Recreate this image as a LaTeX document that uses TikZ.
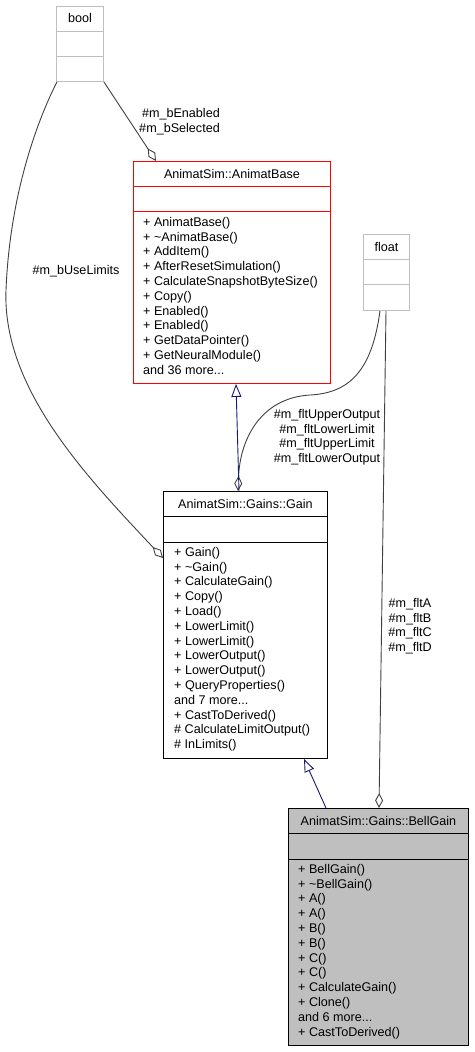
\documentclass[tikz,border=0pt]{standalone}
\usepackage{fontspec}
\setmainfont{Liberation Sans}
\usepackage{tikz}
\usetikzlibrary{calc,arrows.meta}
\definecolor{edgegray}{RGB}{64,64,64}
\definecolor{boxgray}{RGB}{191,191,191}
\definecolor{navyline}{RGB}{25,25,112}

\begin{document}
\begin{tikzpicture}[x=1pt,y=1pt,yscale=-1,xscale=1,
  classbox/.style={draw,rectangle,inner sep=0pt,anchor=north west,line width=0.9pt},
  title/.style={inner sep=0pt,anchor=base,font=\fontsize{12.6}{14.8}\selectfont},
  members/.style={inner sep=0pt,anchor=north west,align=left,font=\fontsize{12.6}{14.8}\selectfont},
  edgelabel/.style={inner sep=0pt,font=\fontsize{12.6}{14.8}\selectfont},
  aggr/.style={draw=edgegray,line width=0.9pt,-{Diamond[open,length=15pt,width=8pt]}},
  inherit/.style={draw=navyline,line width=0.9pt,-{Triangle[open,length=13pt,width=10pt]}}]
\useasboundingbox (0,0) rectangle (474,1052);

%Shape: Rectangle [bool]
\node[classbox,draw=boxgray,minimum width=47,minimum height=75] (bool) at (56,6) {};
\draw[boxgray,line width=0.9pt] ($(bool.north west)+(0,25)$) -- ($(bool.north east)+(0,25)$);
\draw[boxgray,line width=0.9pt] ($(bool.north west)+(0,50)$) -- ($(bool.north east)+(0,50)$);
%Shape: Rectangle [AnimatBase]
\node[classbox,draw=red,minimum width=197,minimum height=222] (animatbase) at (133,161) {};
\draw[red,line width=0.9pt] ($(animatbase.north west)+(0,25)$) -- ($(animatbase.north east)+(0,25)$);
\draw[red,line width=0.9pt] ($(animatbase.north west)+(0,50)$) -- ($(animatbase.north east)+(0,50)$);
%Shape: Rectangle [float]
\node[classbox,draw=boxgray,minimum width=46,minimum height=76] (float) at (363,234) {};
\draw[boxgray,line width=0.9pt] ($(float.north west)+(0,25)$) -- ($(float.north east)+(0,25)$);
\draw[boxgray,line width=0.9pt] ($(float.north west)+(0,50)$) -- ($(float.north east)+(0,50)$);
%Shape: Rectangle [Gain]
\node[classbox,minimum width=164,minimum height=267] (gain) at (163,491) {};
\draw[line width=0.9pt] ($(gain.north west)+(0,25)$) -- ($(gain.north east)+(0,25)$);
\draw[line width=0.9pt] ($(gain.north west)+(0,51)$) -- ($(gain.north east)+(0,51)$);
%Shape: Rectangle [BellGain]
\node[classbox,fill=boxgray,minimum width=180,minimum height=237] (bellgain) at (288,808) {};
\draw[line width=0.9pt] ($(bellgain.north west)+(0,25)$) -- ($(bellgain.north east)+(0,25)$);
\draw[line width=0.9pt] ($(bellgain.north west)+(0,51)$) -- ($(bellgain.north east)+(0,51)$);

% Text Node
\node[title] (boolname) at ($(bool.north)+(0,17)$) {bool};
% Text Node
\node[title] (floatname) at ($(float.north)+(0,17)$) {float};
% Text Node
\node[title] (animatbasename) at ($(animatbase.north)+(0,17)$) {AnimatSim::AnimatBase};
% Text Node
\node[members] (animatbaseops) at ($(animatbase.north west)+(10,56)$) {+ AnimatBase()\\+ \textasciitilde AnimatBase()\\+ AddItem()\\+ AfterResetSimulation()\\+ CalculateSnapshotByteSize()\\+ Copy()\\+ Enabled()\\+ Enabled()\\+ GetDataPointer()\\+ GetNeuralModule()\\and 36 more...};
% Text Node
\node[title] (gainname) at ($(gain.north)+(0,17)$) {AnimatSim::Gains::Gain};
% Text Node
\node[members] (gainops) at ($(gain.north west)+(11,56)$) {+ Gain()\\+ \textasciitilde Gain()\\+ CalculateGain()\\+ Copy()\\+ Load()\\+ LowerLimit()\\+ LowerLimit()\\+ LowerOutput()\\+ LowerOutput()\\+ QueryProperties()\\and 7 more...\\+ CastToDerived()\\\# CalculateLimitOutput()\\\# InLimits()};
% Text Node
\node[title] (bellgainname) at ($(bellgain.north)+(0,17)$) {AnimatSim::Gains::BellGain};
% Text Node
\node[members] (bellgainops) at ($(bellgain.north west)+(10,56)$) {+ BellGain()\\+ \textasciitilde BellGain()\\+ A()\\+ A()\\+ B()\\+ B()\\+ C()\\+ C()\\+ CalculateGain()\\+ Clone()\\and 6 more...\\+ CastToDerived()};

%Connectors
\draw[aggr] (bool.south east) -- ($(animatbase.north west)+(23,0)$);
\draw[aggr] ($(bool.south west)+(1,0)$) .. controls (40,115) and (10,190) .. (6,290) .. controls (2,390) and (90,480) .. ($(gain.north west)+(0,67)$);
\draw[aggr] ($(float.south west)+(17,0)$) .. controls (372,370) and (350,393) .. (310,395) .. controls (260,398) and (240,440) .. ($(gain.north west)+(75,0)$);
\draw[aggr] ($(float.south west)+(23,0)$) -- ($(bellgain.north west)+(91,0)$);
\draw[inherit] ($(gain.north west)+(76,0)$) -- ($(animatbase.south west)+(103,0)$);
\draw[inherit] ($(bellgain.north west)+(38,0)$) -- ($(gain.south west)+(141,0)$);

% Text Node
\node[edgelabel,anchor=north east,align=right] (enabledlabel) at (220,108) {\#m\_bEnabled\\\#m\_bSelected};
% Text Node
\node[edgelabel,anchor=base] (uselimitslabel) at (76,274.5) {\#m\_bUseLimits};
% Text Node
\node[edgelabel,anchor=north,align=center] (limitslabel) at (327,409) {\#m\_fltUpperOutput\\\#m\_fltLowerLimit\\\#m\_fltUpperLimit\\\#m\_fltLowerOutput};
% Text Node
\node[edgelabel,anchor=north,align=center] (abcdlabel) at (410,598) {\#m\_fltA\\\#m\_fltB\\\#m\_fltC\\\#m\_fltD};

\end{tikzpicture}
\end{document}
